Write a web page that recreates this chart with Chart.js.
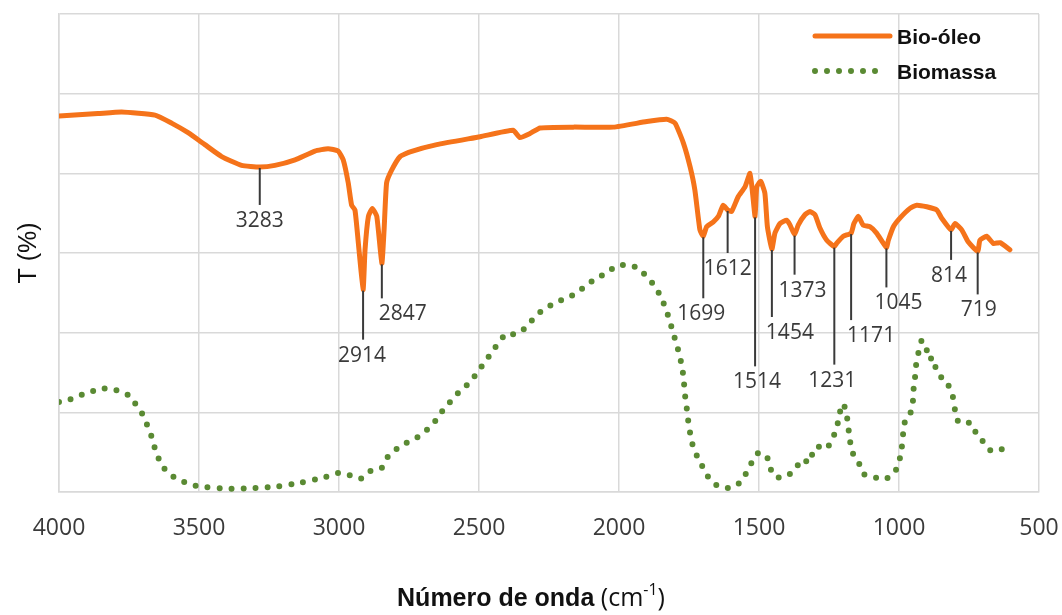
<!DOCTYPE html>
<html>
<head>
<meta charset="utf-8">
<script src="https://cdn.jsdelivr.net/npm/chart.js@4.4.1/dist/chart.umd.min.js"></script>
<style>
  html, body { margin: 0; padding: 0; background: #fff; }
  #wrap { width: 1062px; height: 615px; }
</style>
</head>
<body>
<div id="wrap"><canvas id="ftir"></canvas></div>
<script>
// FTIR spectra: wavenumber (cm-1) against transmittance (offset, no scale shown)
const bioOleoWn = [4000, 3861, 3776, 3657, 3598, 3539, 3479, 3419, 3348, 3283, 3229, 3157, 3086, 3039, 3003,
  2985, 2967, 2955, 2943, 2931, 2914, 2907, 2895, 2881, 2865, 2847, 2839, 2830, 2812, 2782, 2746, 2651,
  2496, 2378, 2354, 2318, 2282, 2163, 2020, 1901, 1830, 1800, 1770, 1746, 1729, 1711, 1699, 1687, 1663,
  1645, 1628, 1612, 1598, 1574, 1550, 1532, 1523, 1514, 1508, 1494, 1479, 1470, 1454, 1443, 1425, 1401,
  1389, 1373, 1360, 1336, 1318, 1300, 1282, 1258, 1231, 1223, 1199, 1171, 1161, 1145, 1128, 1104, 1080,
  1045, 1038, 1020, 996, 961, 937, 901, 865, 848, 814, 800, 776, 753, 719, 711, 687, 663, 639, 604];
const bioOleoT = [47.2, 47.5, 47.7, 47.3, 46.3, 45.1, 43.6, 42.1, 41.0, 40.8, 41.0, 41.7, 42.8, 43.1, 42.8,
  41.7, 38.8, 36.0, 35.4, 31.3, 25.4, 30.4, 34.6, 35.6, 34.6, 28.7, 32.9, 38.8, 40.4, 42.1, 42.7, 43.6,
  44.6, 45.4, 44.5, 45.0, 45.7, 45.8, 45.8, 46.5, 46.8, 46.3, 43.8, 40.8, 37.9, 32.9, 32.1, 33.3, 33.9,
  34.6, 36.0, 35.4, 35.2, 37.1, 38.3, 40.0, 37.5, 34.6, 38.3, 39.0, 37.5, 33.3, 30.5, 32.5, 33.7, 34.1,
  33.5, 32.3, 33.5, 34.8, 35.2, 34.8, 33.1, 31.6, 30.8, 31.2, 32.1, 32.5, 33.7, 34.6, 33.5, 33.3, 32.5,
  30.7, 31.6, 33.3, 34.4, 35.6, 36.0, 35.8, 35.4, 34.4, 32.9, 33.7, 32.9, 31.4, 30.2, 31.6, 32.1, 31.2, 31.3, 30.4];

const biomassaWn = [4000, 3961, 3919, 3883, 3854, 3806, 3776, 3750, 3735, 3711, 3693, 3675, 3663, 3648, 3628,
  3595, 3556, 3514, 3473, 3389, 3303, 3217, 3133, 3048, 3003, 2961, 2921, 2889, 2848, 2826, 2794, 2758,
  2719, 2683, 2654, 2628, 2598, 2570, 2538, 2508, 2482, 2457, 2431, 2401, 2371, 2330, 2303, 2270, 2229,
  2193, 2154, 2118, 2082, 2044, 2008, 1970, 1931, 1901, 1871, 1848, 1832, 1820, 1806, 1794, 1782, 1773,
  1768, 1764, 1758, 1753, 1746, 1737, 1720, 1699, 1678, 1645, 1606, 1568, 1542, 1523, 1503, 1473, 1461,
  1443, 1407, 1371, 1348, 1318, 1306, 1288, 1261, 1237, 1219, 1213, 1199, 1187, 1181, 1175, 1169, 1145,
  1128, 1092, 1050, 1014, 999, 990, 985, 979, 963, 951, 949, 943, 940, 931, 919, 904, 892, 880, 865, 854,
  836, 824, 808, 800, 788, 764, 737, 723, 693, 669, 628];
const biomassaT = [11.3, 11.6, 12.2, 12.6, 13.0, 12.9, 12.5, 12.1, 11.4, 10.4, 9.0, 7.6, 6.1, 4.5, 3.1,
  2.0, 1.3, 0.8, 0.6, 0.4, 0.5, 0.7, 1.2, 1.9, 2.4, 2.1, 1.7, 2.6, 3.0, 4.4, 5.4, 6.2,
  6.9, 7.9, 9.0, 10.3, 11.5, 12.6, 13.6, 14.9, 16.2, 17.4, 18.7, 19.9, 19.8, 20.7, 21.9, 22.9, 23.7,
  24.3, 24.9, 25.9, 26.8, 27.5, 28.4, 28.5, 28.1, 27.0, 25.8, 24.3, 22.9, 21.6, 19.9, 18.5, 16.9, 15.3,
  13.7, 12.1, 10.5, 9.0, 7.4, 5.9, 4.4, 3.0, 1.7, 0.7, 0.5, 1.2, 2.6, 3.9, 4.9, 4.5, 3.1,
  1.9, 1.9, 2.8, 4.1, 3.7, 5.3, 5.7, 5.4, 6.7, 8.6, 9.8, 11.1, 9.7, 8.1, 6.5, 5.1, 3.8,
  2.3, 1.9, 1.6, 2.6, 3.9, 5.6, 7.4, 8.8, 9.5, 11.1, 12.6, 14.3, 15.7, 17.4, 19.0, 18.2, 16.6, 16.9, 15.1, 14.7,
  13.6, 13.4, 12.0, 10.3, 8.8, 8.8, 8.5, 7.2, 6.1, 5.1, 5.4];

const seriesNames = ['Bio-óleo', 'Biomassa'];
const peakLabels = [3283, 2914, 2847, 1699, 1612, 1514, 1454, 1373, 1231, 1171, 1045, 814, 719];

// leader length below the curve and horizontal shift of the number (px)
const calloutLayout = {
  3283: [38, 0], 2914: [50, -1], 2847: [35, 21], 1699: [62, -2], 1612: [43, 0],
  1514: [150, 2], 1454: [68, 18], 1373: [40, 8], 1231: [118, -2], 1171: [87, 20],
  1045: [40, 12], 814: [30, -2], 719: [43, 1]
};

const gridColor = '#d9d9d9';
const labelColor = '#3a3a3a';
const orange = '#f5731a';
const green = '#5a8a33';

function toPoints(wns, vals) {
  return wns.map((w, i) => ({ x: w, y: vals[i] }));
}

function valueAt(wns, vals, wn) {
  for (let i = 0; i < wns.length - 1; i++) {
    if (wn <= wns[i] && wn >= wns[i + 1]) {
      const t = (wns[i] - wn) / (wns[i] - wns[i + 1]);
      return vals[i] + t * (vals[i + 1] - vals[i]);
    }
  }
  return null;
}

// vertical leaders with the wavenumber under each marked band
const peakCallouts = {
  id: 'peakCallouts',
  afterDatasetsDraw(chart) {
    const { ctx, scales: { x, y } } = chart;
    ctx.save();
    ctx.strokeStyle = labelColor;
    ctx.lineWidth = 2;
    ctx.fillStyle = labelColor;
    ctx.font = "21px 'Open Sans', sans-serif";
    ctx.textAlign = 'center';
    ctx.textBaseline = 'middle';
    peakLabels.forEach(wn => {
      const [len, dx] = calloutLayout[wn];
      const px = x.getPixelForValue(wn);
      const py = y.getPixelForValue(valueAt(bioOleoWn, bioOleoT, wn));
      ctx.beginPath();
      ctx.moveTo(px, py + 1);
      ctx.lineTo(px, py + len);
      ctx.stroke();
      ctx.fillText(String(wn), px + dx, py + len + 16);
    });
    ctx.restore();
  }
};

// legend in the upper right corner of the plot
const cornerLegend = {
  id: 'cornerLegend',
  afterDraw(chart) {
    const { ctx, chartArea } = chart;
    const x0 = chartArea.right - 224;
    ctx.save();
    chart.data.datasets.forEach((ds, i) => {
      const yy = chartArea.top + 22 + i * 35;
      ctx.beginPath();
      ctx.strokeStyle = ds.borderColor;
      ctx.lineWidth = ds.borderWidth;
      ctx.lineCap = ds.borderCapStyle || 'butt';
      ctx.setLineDash(ds.borderDash || []);
      ctx.moveTo(x0, yy);
      ctx.lineTo(x0 + (i === 0 ? 75 : 70), yy);
      ctx.stroke();
      ctx.setLineDash([]);
      ctx.fillStyle = '#111';
      ctx.font = "bold 21px 'Liberation Sans', Arial, sans-serif";
      ctx.textBaseline = 'middle';
      ctx.fillText(ds.label, x0 + 82, yy + 2);
    });
    ctx.restore();
  }
};

// x axis title with bold words and a superscript unit
const xAxisTitle = {
  id: 'xAxisTitle',
  afterDraw(chart) {
    const { ctx } = chart;
    const parts = [
      { t: 'Número de onda', f: "bold 25px 'Liberation Sans', Arial, sans-serif", dy: 0 },
      { t: ' (cm', f: "25px 'Open Sans', sans-serif", dy: 0 },
      { t: '-1', f: "16px 'Open Sans', sans-serif", dy: -11 },
      { t: ')', f: "25px 'Open Sans', sans-serif", dy: 0 }
    ];
    ctx.save();
    ctx.fillStyle = '#111';
    ctx.textBaseline = 'alphabetic';
    let total = 0;
    parts.forEach(p => { ctx.font = p.f; p.w = ctx.measureText(p.t).width; total += p.w; });
    let cx = chart.width / 2 - total / 2;
    const base = 606;
    parts.forEach(p => {
      ctx.font = p.f;
      ctx.fillText(p.t, cx, base + p.dy);
      cx += p.w;
    });
    ctx.restore();
  }
};

new Chart(document.getElementById('ftir'), {
  type: 'line',
  data: {
    datasets: [
      {
        label: seriesNames[0],
        data: toPoints(bioOleoWn, bioOleoT),
        borderColor: orange,
        borderWidth: 5,
        borderCapStyle: 'round',
        borderJoinStyle: 'round',
        pointRadius: 0,
        tension: 0.15
      },
      {
        label: seriesNames[1],
        data: toPoints(biomassaWn, biomassaT),
        borderColor: green,
        borderWidth: 6,
        borderDash: [0, 12],
        borderCapStyle: 'round',
        pointRadius: 0,
        tension: 0.2
      }
    ]
  },
  options: {
    responsive: true,
    maintainAspectRatio: false,
    animation: false,
    devicePixelRatio: 1,
    layout: { padding: { top: 14, right: 23, left: 0, bottom: 0 } },
    plugins: { legend: { display: false }, tooltip: { enabled: false } },
    scales: {
      x: {
        type: 'linear',
        reverse: true,
        min: 500,
        max: 4000,
        ticks: {
          stepSize: 500,
          padding: 23,
          color: labelColor,
          maxRotation: 0,
          font: { family: "'Open Sans', sans-serif", size: 23 },
          callback: v => String(v)
        },
        grid: { color: gridColor, lineWidth: 1.5, drawTicks: false },
        border: { color: gridColor, width: 1.5 },
        afterFit(s) { s.height = 123; s.paddingLeft = 0; s.paddingRight = 0; }
      },
      y: {
        min: 0,
        max: 60,
        ticks: { stepSize: 10, display: false },
        grid: { color: gridColor, lineWidth: 1.5, drawTicks: false },
        border: { color: gridColor, width: 1.5 },
        title: {
          display: true,
          text: 'T (%)',
          color: '#111',
          padding: { top: 14, bottom: 0 },
          font: { family: "'Liberation Sans', Arial, sans-serif", size: 25 }
        },
        afterFit(s) { s.width = 59; s.paddingTop = 0; s.paddingBottom = 0; }
      }
    }
  },
  plugins: [peakCallouts, cornerLegend, xAxisTitle]
});
</script>
</body>
</html>
